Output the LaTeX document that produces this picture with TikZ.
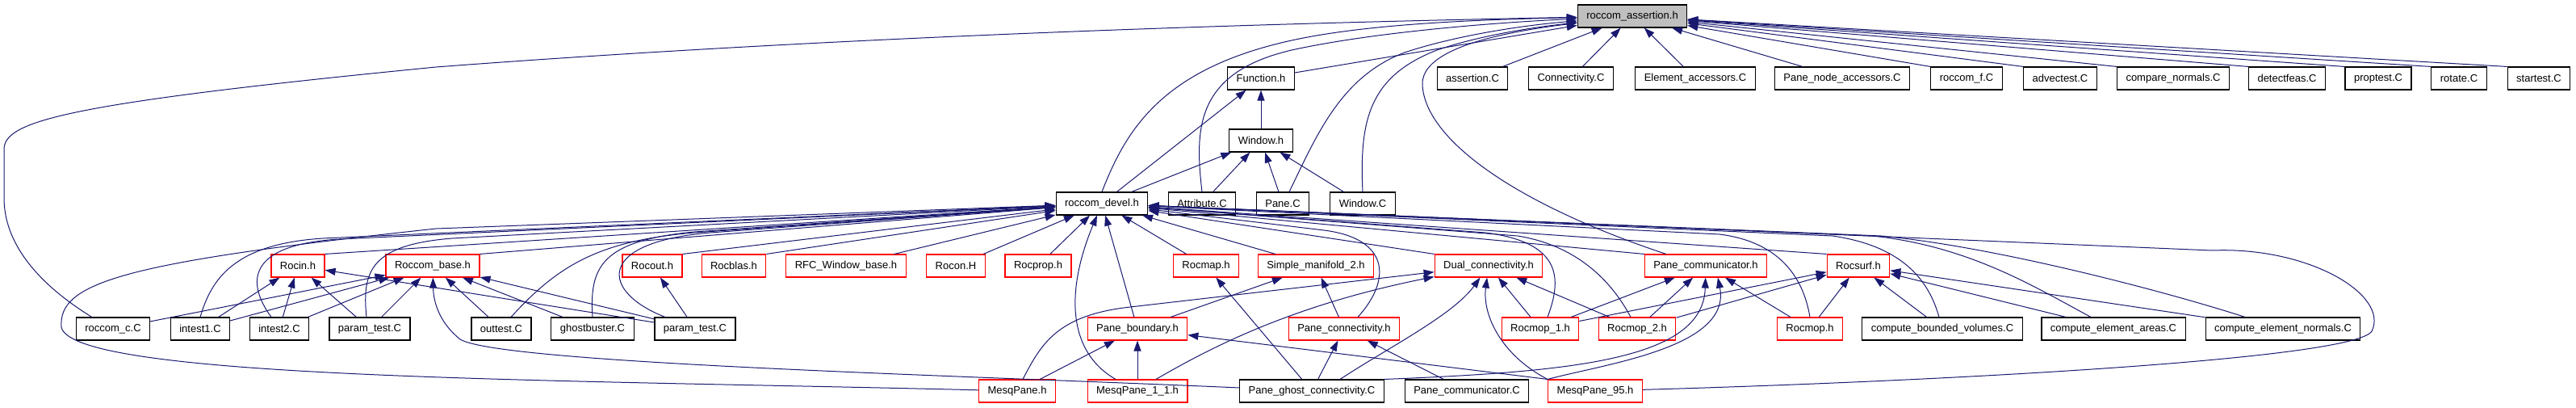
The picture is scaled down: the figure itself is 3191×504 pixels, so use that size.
\documentclass[tikz,border=0pt]{standalone}
\usepackage{fontspec}
\setmainfont{Liberation Sans}
\usetikzlibrary{arrows.meta}
\definecolor{linkblue}{HTML}{191970}
\definecolor{topgray}{HTML}{BFBFBF}
\newcommand{\taille}[0]{\fontsize{13}{15}\selectfont}
\newcommand{\inc}[2]{\draw[incl] (#1) -- (#2)}
\tikzset{
	file/.style = {draw=black, line width=1.1pt, inner xsep=11pt, inner ysep=0pt, minimum height=28pt, font=\taille},
	hdr/.style = {file, draw=red},
	incl/.style = {draw=linkblue, line width=1pt, -{Triangle[length=13pt, width=9pt]}}
}

\begin{document}
\begin{tikzpicture}[x=1pt, y=-1pt]
	\useasboundingbox (0,0) rectangle (3191,504);
%The header
	\node[file, fill=topgray] (assert) at (2022,20) {roccom\_assertion.h};
%Second row
	\node[file] (Fh) at (1562,97) {Function.h};
	\node[file] (asC) at (1824,97) {assertion.C};
	\node[file] (conC) at (1946,97) {Connectivity.C};
	\node[file] (elC) at (2100,97) {Element\_accessors.C};
	\node[file] (pnC) at (2282,97) {Pane\_node\_accessors.C};
	\node[file] (rfC) at (2436,97) {roccom\_f.C};
	\node[file] (adC) at (2552,97) {advectest.C};
	\node[file] (cnC) at (2692,97) {compare\_normals.C};
	\node[file] (dfC) at (2833,97) {detectfeas.C};
	\node[file] (ptC) at (2946,97) {proptest.C};
	\node[file] (roC) at (3046,97) {rotate.C};
	\node[file] (stC) at (3145,97) {startest.C};
%Third row
	\node[file] (Wh) at (1562,174) {Window.h};
%Fourth row
	\node[file] (dev) at (1365,252) {roccom\_devel.h};
	\node[file] (atC) at (1489,252) {Attribute.C};
	\node[file] (paC) at (1589,252) {Pane.C};
	\node[file] (wiC) at (1688,252) {Window.C};
%Fifth row
	\node[hdr] (rocin) at (369,329) {Rocin.h};
	\node[hdr] (rbase) at (536,329) {Roccom\_base.h};
	\node[hdr] (rocout) at (808,329) {Rocout.h};
	\node[hdr] (rocblas) at (909,329) {Rocblas.h};
	\node[hdr] (rfc) at (1048,329) {RFC\_Window\_base.h};
	\node[hdr] (rocon) at (1184,329) {Rocon.H};
	\node[hdr] (rocprop) at (1286,329) {Rocprop.h};
	\node[hdr] (rocmap) at (1494,329) {Rocmap.h};
	\node[hdr] (sm2) at (1630,329) {Simple\_manifold\_2.h};
	\node[hdr] (dual) at (1844,329) {Dual\_connectivity.h};
	\node[hdr] (pcomh) at (2113,329) {Pane\_communicator.h};
	\node[hdr] (rocsurf) at (2302,329) {Rocsurf.h};
%Sixth row
	\node[file] (rcC) at (140,407) {roccom\_c.C};
	\node[file] (it1) at (248,407) {intest1.C};
	\node[file] (it2) at (346,407) {intest2.C};
	\node[file] (pt1) at (458,407) {param\_test.C};
	\node[file] (otC) at (621,407) {outtest.C};
	\node[file] (gbC) at (734,407) {ghostbuster.C};
	\node[file] (pt2) at (861,407) {param\_test.C};
	\node[hdr] (pbnd) at (1409,407) {Pane\_boundary.h};
	\node[hdr] (pconn) at (1665,407) {Pane\_connectivity.h};
	\node[hdr] (mop1) at (1908,407) {Rocmop\_1.h};
	\node[hdr] (mop2) at (2028,407) {Rocmop\_2.h};
	\node[hdr] (mop) at (2242,407) {Rocmop.h};
	\node[file] (cbv) at (2406,407) {compute\_bounded\_volumes.C};
	\node[file] (cea) at (2618,407) {compute\_element\_areas.C};
	\node[file] (cen) at (2828,407) {compute\_element\_normals.C};
%Last row
	\node[hdr] (mq) at (1260,484) {MesqPane.h};
	\node[hdr] (mq11) at (1409,484) {MesqPane\_1\_1.h};
	\node[file] (pgc) at (1625,484) {Pane\_ghost\_connectivity.C};
	\node[file] (pcomC) at (1817,484) {Pane\_communicator.C};
	\node[hdr] (mq95) at (1976,484) {MesqPane\_95.h};
%Into roccom_assertion.h
	\inc{Fh}{assert};
	\inc{asC}{assert};
	\inc{conC}{assert};
	\inc{elC}{assert};
	\inc{pnC}{assert};
	\inc{rfC.north west}{assert};
	\inc{adC.north west}{assert};
	\inc{cnC.north west}{assert};
	\inc{dfC.north west}{assert};
	\inc{ptC.north west}{assert};
	\inc{roC.north west}{assert};
	\inc{stC.north west}{assert};
	\draw[incl] ([xshift=20]rcC.north west) .. controls (45,350) and (5,300) .. (5,245) -- (5,185)
		.. controls (5,150) and (80,128) .. (540,83) .. controls (1000,48) and (1500,30) .. (assert);
	\draw[incl] (dev.north) .. controls (1395,160) and (1440,85) .. (1600,50) .. controls (1700,28) and (1850,24) .. (assert);
	\draw[incl] (atC.north) .. controls (1480,160) and (1480,90) .. (1600,62) .. controls (1700,40) and (1850,28) .. (assert);
	\draw[incl] ([xshift=8]paC.north) .. controls (1630,170) and (1660,95) .. (1740,65) .. controls (1800,45) and (1880,32) .. (assert);
	\draw[incl] (wiC.north) .. controls (1684,150) and (1695,95) .. (1780,62) .. controls (1830,45) and (1890,35) .. (assert);
	\draw[incl] ([xshift=27]pcomh.north west) .. controls (1870,250) and (1765,170) .. (1762,105) .. controls (1760,60) and (1860,40) .. (assert);
%Into Function.h and Window.h
	\inc{Wh}{Fh};
	\inc{dev}{Fh};
	\inc{dev}{Wh};
	\inc{atC}{Wh};
	\inc{paC}{Wh};
	\inc{wiC}{Wh};
%Into roccom_devel.h
	\inc{rocin.north east}{dev};
	\inc{rbase.north east}{dev};
	\inc{rocout.north east}{dev};
	\inc{rocblas.north east}{dev};
	\inc{rfc}{dev};
	\inc{rocon}{dev};
	\inc{rocprop}{dev};
	\inc{rocmap}{dev};
	\inc{sm2}{dev};
	\inc{dual.north west}{dev};
	\inc{pcomh.north west}{dev};
	\inc{rocsurf.north west}{dev};
	\inc{pbnd}{dev};
	\draw[incl] (it1.north) .. controls (262,345) and (290,302) .. (400,295) -- (dev);
	\draw[incl] ([xshift=-10]it2.north) .. controls (305,350) and (305,303) .. (420,296) -- (dev);
	\draw[incl] ([xshift=-4]pt1.north) .. controls (448,335) and (460,303) .. (560,295) -- (dev);
	\draw[incl] ([xshift=12]otC.north) .. controls (690,330) and (740,298) .. (860,288) -- (dev);
	\draw[incl] (gbC.north) .. controls (730,330) and (745,298) .. (860,287) -- (dev);
	\draw[incl] ([xshift=-37]pt2.north) .. controls (745,362) and (735,300) .. (880,288) -- (dev);
	\draw[incl] ([xshift=-27]mq11.north) .. controls (1322,435) and (1320,360) .. (dev);
	\draw[incl] (mq) .. controls (700,470) and (90,470) .. (76,405) .. controls (72,350) and (150,325) .. (540,283) -- (dev);
	\draw[incl] ([xshift=17]pconn.north) .. controls (1725,345) and (1720,295) .. (1640,285) -- (dev);
	\draw[incl] ([xshift=9]mop1.north) .. controls (1935,345) and (1935,300) .. (1840,288) -- (dev);
	\draw[incl] ([xshift=-8]mop2.north) .. controls (2000,355) and (1960,305) .. (1880,292) -- (dev);
	\draw[incl] (mop.north) .. controls (2235,350) and (2210,300) .. (2130,290) -- (dev);
	\draw[incl] ([xshift=-4]cbv.north) .. controls (2390,350) and (2360,305) .. (2270,292) -- (dev);
	\draw[incl] ([xshift=-28]cea.north) .. controls (2520,355) and (2440,305) .. (2320,292) -- (dev);
	\draw[incl] ([xshift=-47]cen.north) .. controls (2680,360) and (2470,305) .. (2330,292) -- (dev);
	\draw[incl] (mq95) .. controls (2400,472) and (2915,445) .. (2938,410) .. controls (2960,365) and (2860,305) .. (2740,310) -- (dev);
%Into Rocin.h and Roccom_base.h
	\inc{it1}{rocin};
	\inc{it2}{rocin};
	\inc{pt1}{rocin};
	\inc{pt2}{rocin};
	\inc{rcC}{rbase};
	\inc{it1}{rbase};
	\inc{it2}{rbase};
	\inc{pt1}{rbase};
	\inc{otC}{rbase};
	\inc{gbC}{rbase};
	\inc{pt2}{rbase};
	\draw[incl] (pgc) .. controls (1200,465) and (620,450) .. (570,420) .. controls (545,400) and (537,375) .. (rbase);
%The other headers
	\inc{pt2}{rocout};
	\inc{pgc}{rocmap};
	\inc{pbnd}{sm2};
	\inc{pconn}{sm2};
	\inc{mq}{pbnd};
	\inc{mq11}{pbnd};
	\inc{mq95.north west}{pbnd};
	\inc{pgc}{pconn};
	\inc{pcomC}{pconn};
%Into Dual_connectivity.h
	\inc{mop1}{dual};
	\inc{mop2}{dual};
	\draw[incl] ([xshift=7]mq.north) .. controls (1290,425) and (1310,390) .. (1400,380) -- (dual);
	\draw[incl] ([xshift=23]mq11.north) .. controls (1500,430) and (1600,378) .. (dual);
	\draw[incl] ([xshift=35]pgc.north) .. controls (1720,430) and (1800,390) .. (dual);
	\draw[incl] (mq95.north west) .. controls (1860,440) and (1836,390) .. (dual);
%Into Pane_communicator.h
	\inc{mop1}{pcomh};
	\inc{mop2}{pcomh};
	\inc{mop}{pcomh};
	\draw[incl] (pgc.north east) .. controls (1950,460) and (2110,445) .. (pcomh);
	\draw[incl] (mq95.north west) .. controls (1990,450) and (2145,430) .. ([xshift=15]pcomh.south);
%Into Rocsurf.h
	\inc{mop1}{rocsurf};
	\inc{mop2}{rocsurf};
	\inc{mop}{rocsurf};
	\inc{cbv}{rocsurf};
	\inc{cea}{rocsurf};
	\inc{cen}{rocsurf};
\end{tikzpicture}
\end{document}
